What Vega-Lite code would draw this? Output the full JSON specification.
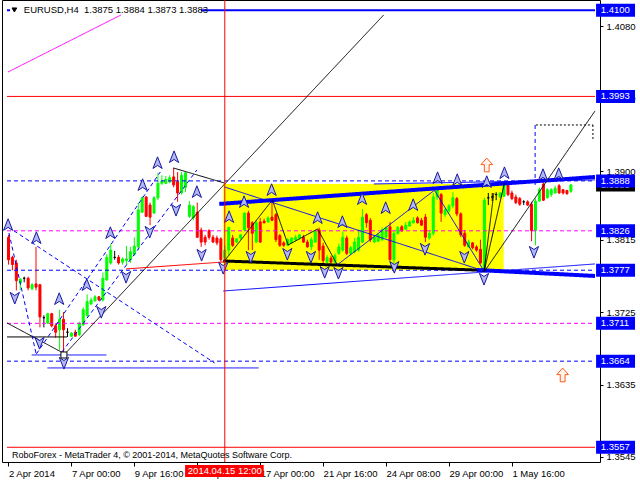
{
"$schema":"https://vega.github.io/schema/vega-lite/v6.json",
"width":598,"height":462,
"autosize":{"type":"none"},
"padding":{"left":2,"right":40,"top":0,"bottom":18},
"background":"white",
"config":{"view":{"stroke":"black","strokeWidth":1},"font":"Liberation Sans","axis":{"labelFont":"Liberation Sans","labelFontSize":9.5,"labelColor":"black","tickColor":"black","grid":false,"domain":false}},
"datasets":{
"rect":[{"k1":54.6,"k2":125.9,"p1":1.38842,"p2":1.37773}],
"one":[{"n":1}],
"c":[
{"k":0,"o":1.3818,"h":1.3821,"l":1.3784,"c":1.379},
{"k":1,"o":1.3793,"h":1.3795,"l":1.3777,"c":1.3784},
{"k":2,"o":1.3786,"h":1.379,"l":1.3752,"c":1.3764},
{"k":3,"o":1.3761,"h":1.3767,"l":1.3752,"c":1.3766},
{"k":4,"o":1.3767,"h":1.3769,"l":1.3762,"c":1.3767},
{"k":5,"o":1.3767,"h":1.3769,"l":1.3752,"c":1.3755},
{"k":6,"o":1.3754,"h":1.3761,"l":1.3752,"c":1.3759},
{"k":7,"o":1.376,"h":1.3806,"l":1.3752,"c":1.3756},
{"k":8,"o":1.3759,"h":1.376,"l":1.3706,"c":1.3719},
{"k":9,"o":1.3718,"h":1.3721,"l":1.3706,"c":1.3718},
{"k":10,"o":1.3711,"h":1.3724,"l":1.3711,"c":1.3723},
{"k":11,"o":1.3723,"h":1.3724,"l":1.3706,"c":1.3708},
{"k":12,"o":1.3708,"h":1.3711,"l":1.3693,"c":1.37},
{"k":13,"o":1.3703,"h":1.3728,"l":1.3678,"c":1.3716},
{"k":14,"o":1.3716,"h":1.3725,"l":1.3672,"c":1.3703},
{"k":15,"o":1.37,"h":1.3705,"l":1.3694,"c":1.37},
{"k":16,"o":1.3695,"h":1.37,"l":1.3694,"c":1.3699},
{"k":17,"o":1.37,"h":1.3703,"l":1.3695,"c":1.3695},
{"k":18,"o":1.3697,"h":1.3713,"l":1.3695,"c":1.3711},
{"k":19,"o":1.3709,"h":1.3731,"l":1.3708,"c":1.3728},
{"k":20,"o":1.3721,"h":1.3747,"l":1.3719,"c":1.3738},
{"k":21,"o":1.3735,"h":1.3743,"l":1.3734,"c":1.374},
{"k":22,"o":1.3739,"h":1.3746,"l":1.3738,"c":1.3744},
{"k":23,"o":1.3744,"h":1.3745,"l":1.3739,"c":1.374},
{"k":24,"o":1.374,"h":1.3774,"l":1.3738,"c":1.3767},
{"k":25,"o":1.3765,"h":1.3797,"l":1.3764,"c":1.3793},
{"k":26,"o":1.3786,"h":1.381,"l":1.3784,"c":1.3802},
{"k":27,"o":1.3793,"h":1.3801,"l":1.379,"c":1.3793},
{"k":28,"o":1.3793,"h":1.3796,"l":1.3784,"c":1.3786},
{"k":29,"o":1.3787,"h":1.3793,"l":1.3784,"c":1.3791},
{"k":30,"o":1.3789,"h":1.3807,"l":1.3784,"c":1.3791},
{"k":31,"o":1.379,"h":1.3806,"l":1.3786,"c":1.38},
{"k":32,"o":1.3797,"h":1.3818,"l":1.3795,"c":1.3807},
{"k":33,"o":1.3806,"h":1.3861,"l":1.3802,"c":1.3852},
{"k":34,"o":1.3849,"h":1.3869,"l":1.3848,"c":1.3867},
{"k":35,"o":1.3868,"h":1.3869,"l":1.3843,"c":1.3844},
{"k":36,"o":1.3858,"h":1.3861,"l":1.3833,"c":1.3843},
{"k":37,"o":1.3848,"h":1.3869,"l":1.3847,"c":1.3867},
{"k":38,"o":1.3867,"h":1.3898,"l":1.3864,"c":1.3885},
{"k":39,"o":1.3885,"h":1.3895,"l":1.3883,"c":1.3888},
{"k":40,"o":1.3885,"h":1.3894,"l":1.3884,"c":1.389},
{"k":41,"o":1.3887,"h":1.3895,"l":1.3885,"c":1.3892},
{"k":42,"o":1.3893,"h":1.3904,"l":1.388,"c":1.3883},
{"k":43,"o":1.3887,"h":1.3899,"l":1.3862,"c":1.3873},
{"k":44,"o":1.3873,"h":1.3899,"l":1.3871,"c":1.3895},
{"k":45,"o":1.388,"h":1.3899,"l":1.3874,"c":1.3898},
{"k":46,"o":1.3844,"h":1.3863,"l":1.3842,"c":1.3858},
{"k":47,"o":1.3842,"h":1.3858,"l":1.3839,"c":1.3856},
{"k":48,"o":1.3849,"h":1.3861,"l":1.3817,"c":1.3818},
{"k":49,"o":1.3827,"h":1.383,"l":1.3806,"c":1.3812},
{"k":50,"o":1.3818,"h":1.3821,"l":1.3808,"c":1.3812},
{"k":51,"o":1.3826,"h":1.3828,"l":1.3815,"c":1.3818},
{"k":52,"o":1.3818,"h":1.3821,"l":1.3811,"c":1.3812},
{"k":53,"o":1.3817,"h":1.382,"l":1.3808,"c":1.3811},
{"k":54,"o":1.3816,"h":1.3818,"l":1.3787,"c":1.379},
{"k":55,"o":1.3792,"h":1.3808,"l":1.3787,"c":1.3802},
{"k":56,"o":1.3802,"h":1.3831,"l":1.3795,"c":1.383},
{"k":57,"o":1.3817,"h":1.3821,"l":1.3806,"c":1.3808},
{"k":58,"o":1.3812,"h":1.3817,"l":1.3811,"c":1.3816},
{"k":59,"o":1.3817,"h":1.3822,"l":1.3815,"c":1.3821},
{"k":60,"o":1.3827,"h":1.3849,"l":1.3825,"c":1.3848},
{"k":61,"o":1.3848,"h":1.3851,"l":1.3802,"c":1.383},
{"k":62,"o":1.3836,"h":1.3838,"l":1.3802,"c":1.3823},
{"k":63,"o":1.3812,"h":1.3839,"l":1.3811,"c":1.3836},
{"k":64,"o":1.3837,"h":1.3842,"l":1.3811,"c":1.3812},
{"k":65,"o":1.3838,"h":1.3841,"l":1.3835,"c":1.3836},
{"k":66,"o":1.3837,"h":1.3844,"l":1.3836,"c":1.3842},
{"k":67,"o":1.3843,"h":1.3864,"l":1.3838,"c":1.3839},
{"k":68,"o":1.3846,"h":1.3848,"l":1.3812,"c":1.3815},
{"k":69,"o":1.382,"h":1.3822,"l":1.3806,"c":1.3808},
{"k":70,"o":1.3811,"h":1.3813,"l":1.3806,"c":1.3808},
{"k":71,"o":1.3808,"h":1.3817,"l":1.3807,"c":1.3815},
{"k":72,"o":1.3811,"h":1.3818,"l":1.381,"c":1.3817},
{"k":73,"o":1.3815,"h":1.3821,"l":1.3813,"c":1.3818},
{"k":74,"o":1.3817,"h":1.3822,"l":1.3815,"c":1.3821},
{"k":75,"o":1.3818,"h":1.3821,"l":1.3811,"c":1.3812},
{"k":76,"o":1.3812,"h":1.3815,"l":1.3805,"c":1.3806},
{"k":77,"o":1.3806,"h":1.3818,"l":1.3802,"c":1.3815},
{"k":78,"o":1.3812,"h":1.3827,"l":1.3811,"c":1.3825},
{"k":79,"o":1.3827,"h":1.383,"l":1.379,"c":1.3802},
{"k":80,"o":1.3807,"h":1.3811,"l":1.3786,"c":1.3789},
{"k":81,"o":1.3787,"h":1.3796,"l":1.3786,"c":1.3793},
{"k":82,"o":1.3792,"h":1.3795,"l":1.3786,"c":1.3787},
{"k":83,"o":1.3787,"h":1.3798,"l":1.3784,"c":1.3795},
{"k":84,"o":1.3798,"h":1.381,"l":1.3796,"c":1.3806},
{"k":85,"o":1.3802,"h":1.3825,"l":1.38,"c":1.3818},
{"k":86,"o":1.3817,"h":1.382,"l":1.3796,"c":1.3798},
{"k":87,"o":1.3798,"h":1.3807,"l":1.3796,"c":1.3805},
{"k":88,"o":1.38,"h":1.3817,"l":1.3798,"c":1.3812},
{"k":89,"o":1.3802,"h":1.3827,"l":1.38,"c":1.3818},
{"k":90,"o":1.3812,"h":1.3853,"l":1.3811,"c":1.3843},
{"k":91,"o":1.3846,"h":1.3848,"l":1.383,"c":1.3836},
{"k":92,"o":1.3839,"h":1.3842,"l":1.3812,"c":1.3815},
{"k":93,"o":1.3812,"h":1.3821,"l":1.3811,"c":1.3818},
{"k":94,"o":1.3813,"h":1.3823,"l":1.3812,"c":1.3821},
{"k":95,"o":1.3815,"h":1.383,"l":1.3813,"c":1.3827},
{"k":96,"o":1.3818,"h":1.3831,"l":1.3817,"c":1.383},
{"k":97,"o":1.3831,"h":1.3837,"l":1.3789,"c":1.379},
{"k":98,"o":1.379,"h":1.3826,"l":1.3784,"c":1.3823},
{"k":99,"o":1.3823,"h":1.3832,"l":1.3821,"c":1.383},
{"k":100,"o":1.3831,"h":1.3833,"l":1.3825,"c":1.3826},
{"k":101,"o":1.3828,"h":1.3837,"l":1.3827,"c":1.3833},
{"k":102,"o":1.3832,"h":1.3839,"l":1.3831,"c":1.3837},
{"k":103,"o":1.3836,"h":1.3843,"l":1.3835,"c":1.3839},
{"k":104,"o":1.3842,"h":1.3844,"l":1.3835,"c":1.3836},
{"k":105,"o":1.3839,"h":1.3842,"l":1.3832,"c":1.3833},
{"k":106,"o":1.3843,"h":1.3847,"l":1.3812,"c":1.3818},
{"k":107,"o":1.3817,"h":1.3826,"l":1.3815,"c":1.3823},
{"k":108,"o":1.3823,"h":1.3873,"l":1.382,"c":1.3868},
{"k":109,"o":1.3868,"h":1.3879,"l":1.3864,"c":1.3877},
{"k":110,"o":1.3871,"h":1.3873,"l":1.3837,"c":1.3848},
{"k":111,"o":1.3846,"h":1.3854,"l":1.3843,"c":1.3852},
{"k":112,"o":1.3851,"h":1.3859,"l":1.3848,"c":1.3857},
{"k":113,"o":1.3857,"h":1.3874,"l":1.3854,"c":1.3867},
{"k":114,"o":1.3866,"h":1.3868,"l":1.3844,"c":1.3847},
{"k":115,"o":1.3847,"h":1.3849,"l":1.3818,"c":1.3821},
{"k":116,"o":1.3823,"h":1.3827,"l":1.3806,"c":1.3808},
{"k":117,"o":1.3806,"h":1.3815,"l":1.3805,"c":1.3812},
{"k":118,"o":1.3811,"h":1.3812,"l":1.3803,"c":1.3805},
{"k":119,"o":1.3806,"h":1.3808,"l":1.38,"c":1.3802},
{"k":120,"o":1.3803,"h":1.3815,"l":1.3785,"c":1.3786},
{"k":121,"o":1.378,"h":1.3867,"l":1.3775,"c":1.3864},
{"k":122,"o":1.3867,"h":1.3873,"l":1.3858,"c":1.3867},
{"k":123,"o":1.3868,"h":1.3873,"l":1.3863,"c":1.3868},
{"k":124,"o":1.3871,"h":1.3874,"l":1.3864,"c":1.3871},
{"k":125,"o":1.3868,"h":1.3874,"l":1.3867,"c":1.3873},
{"k":126,"o":1.3869,"h":1.3887,"l":1.3868,"c":1.3884},
{"k":127,"o":1.3884,"h":1.3888,"l":1.3869,"c":1.3871},
{"k":128,"o":1.3873,"h":1.3876,"l":1.3864,"c":1.3866},
{"k":129,"o":1.3868,"h":1.3871,"l":1.3859,"c":1.3861},
{"k":130,"o":1.3866,"h":1.3868,"l":1.3857,"c":1.3859},
{"k":131,"o":1.3862,"h":1.3864,"l":1.3858,"c":1.3862},
{"k":132,"o":1.3862,"h":1.3864,"l":1.3857,"c":1.3858},
{"k":133,"o":1.3859,"h":1.3862,"l":1.3813,"c":1.3826},
{"k":134,"o":1.3826,"h":1.3866,"l":1.3808,"c":1.3863},
{"k":135,"o":1.3863,"h":1.388,"l":1.3862,"c":1.3877},
{"k":136,"o":1.3884,"h":1.3887,"l":1.3863,"c":1.3864},
{"k":137,"o":1.3867,"h":1.3879,"l":1.3866,"c":1.3877},
{"k":138,"o":1.3871,"h":1.3879,"l":1.3868,"c":1.3877},
{"k":139,"o":1.3873,"h":1.3882,"l":1.3872,"c":1.3879},
{"k":140,"o":1.3882,"h":1.3884,"l":1.3872,"c":1.3873},
{"k":141,"o":1.3877,"h":1.3878,"l":1.3871,"c":1.3873},
{"k":142,"o":1.3876,"h":1.3877,"l":1.3871,"c":1.3872},
{"k":143,"o":1.3875,"h":1.3884,"l":1.3873,"c":1.3883}
],
"s":[
{"k1":-0.375,"p1":1.41,"k2":0.4,"p2":1.41,"s":"b2"},
{"k1":48.9,"p1":1.41,"k2":149.125,"p2":1.41,"s":"b2"},
{"k1":-0.375,"p1":1.3993,"k2":149.125,"p2":1.3993,"s":"r1"},
{"k1":-0.375,"p1":1.3888,"k2":149.125,"p2":1.3888,"s":"bd"},
{"k1":-0.375,"p1":1.3826,"k2":149.125,"p2":1.3826,"s":"md"},
{"k1":-0.375,"p1":1.3777,"k2":149.125,"p2":1.3777,"s":"bd"},
{"k1":-0.375,"p1":1.3711,"k2":149.125,"p2":1.3711,"s":"md"},
{"k1":-0.375,"p1":1.3664,"k2":149.125,"p2":1.3664,"s":"bd"},
{"k1":-0.375,"p1":1.3557,"k2":149.125,"p2":1.3557,"s":"r1"},
{"k1":53.6,"p1":1.38594,"k2":149.125,"p2":1.38929,"s":"bt"},
{"k1":54.6,"p1":1.37885,"k2":125.4,"p2":1.37761,"s":"kt"},
{"k1":119.1,"p1":1.37773,"k2":149.125,"p2":1.37699,"s":"bt"},
{"k1":54.6,"p1":1.37512,"k2":149.125,"p2":1.37848,"s":"b1"},
{"k1":14.1,"p1":1.36717,"k2":95.4,"p2":1.40942,"s":"k1"},
{"k1":41.9,"p1":1.39041,"k2":54.9,"p2":1.38854,"s":"k1"},
{"k1":120.9,"p1":1.37748,"k2":149.125,"p2":1.39749,"s":"k1"},
{"k1":134.1,"p1":1.39575,"k2":148.6,"p2":1.39575,"s":"kd"},
{"k1":148.6,"p1":1.39575,"k2":148.6,"p2":1.39389,"s":"kd"},
{"k1":133.9,"p1":1.39575,"k2":133.9,"p2":1.3883,"s":"bd"},
{"k1":-0.125,"p1":1.40233,"k2":28.6,"p2":1.40942,"s":"m1"},
{"k1":-0.375,"p1":1.36941,"k2":14.9,"p2":1.36941,"s":"k1"},
{"k1":-0.375,"p1":1.37115,"k2":13.9,"p2":1.36742,"s":"k1"},
{"k1":5.9,"p1":1.36717,"k2":24.9,"p2":1.36717,"s":"b1"},
{"k1":9.9,"p1":1.36556,"k2":63.6,"p2":1.36556,"s":"b1"},
{"k1":-0.125,"p1":1.38308,"k2":52.4,"p2":1.36618,"s":"bd"},
{"k1":7.1,"p1":1.3673,"k2":38.6,"p2":1.38991,"s":"bd"},
{"k1":13.6,"p1":1.36754,"k2":47.9,"p2":1.39016,"s":"bd"},
{"k1":0.125,"p1":1.38233,"k2":7.1,"p2":1.36717,"s":"bd"},
{"k1":29.9,"p1":1.37786,"k2":54.9,"p2":1.37873,"s":"r1"},
{"k1":54.9,"p1":1.37885,"k2":67.1,"p2":1.38643,"s":"k1"},
{"k1":67.1,"p1":1.38643,"k2":71.1,"p2":1.38084,"s":"k1"},
{"k1":71.1,"p1":1.38084,"k2":78.6,"p2":1.38283,"s":"k1"},
{"k1":78.6,"p1":1.38283,"k2":83.6,"p2":1.37836,"s":"k1"},
{"k1":83.6,"p1":1.37836,"k2":108.4,"p2":1.38768,"s":"b1"},
{"k1":108.4,"p1":1.38755,"k2":120.9,"p2":1.37761,"s":"b1"},
{"k1":54.9,"p1":1.38805,"k2":120.9,"p2":1.37761,"s":"b1"},
{"k1":120.9,"p1":1.37748,"k2":126.1,"p2":1.38854,"s":"k1"},
{"k1":120.9,"p1":1.37748,"k2":123.4,"p2":1.3873,"s":"k1"},
{"k1":92.9,"p1":1.38842,"k2":149.125,"p2":1.38892,"s":"b1"}
],
"a":[
{"k":-0.1,"p":1.38333,"t":"up"},{"k":7.1,"p":1.38171,"t":"up"},{"k":12.9,"p":1.37413,"t":"up"},{"k":19.9,"p":1.37587,"t":"up"},{"k":25.9,"p":1.38233,"t":"up"},{"k":34.1,"p":1.3883,"t":"up"},{"k":37.9,"p":1.39103,"t":"up"},{"k":42.1,"p":1.39177,"t":"up"},{"k":47.9,"p":1.38743,"t":"up"},{"k":56.1,"p":1.38432,"t":"up"},{"k":59.9,"p":1.38619,"t":"up"},{"k":66.9,"p":1.38768,"t":"up"},{"k":78.6,"p":1.3842,"t":"up"},{"k":84.9,"p":1.3837,"t":"up"},{"k":89.9,"p":1.38656,"t":"up"},{"k":95.9,"p":1.38544,"t":"up"},{"k":102.9,"p":1.38581,"t":"up"},{"k":109.1,"p":1.38916,"t":"up"},{"k":114.1,"p":1.38892,"t":"up"},{"k":121.6,"p":1.38867,"t":"up"},{"k":126.1,"p":1.38978,"t":"up"},{"k":135.9,"p":1.38954,"t":"up"},{"k":139.9,"p":1.38966,"t":"up"},
{"k":1.6,"p":1.37426,"t":"dn"},{"k":7.9,"p":1.36866,"t":"dn"},{"k":14.1,"p":1.36618,"t":"dn"},{"k":23.6,"p":1.37251,"t":"dn"},{"k":29.9,"p":1.37686,"t":"dn"},{"k":35.9,"p":1.38246,"t":"dn"},{"k":42.6,"p":1.38519,"t":"dn"},{"k":49.1,"p":1.3796,"t":"dn"},{"k":54.6,"p":1.37798,"t":"dn"},{"k":61.6,"p":1.37935,"t":"dn"},{"k":70.9,"p":1.37972,"t":"dn"},{"k":76.9,"p":1.37935,"t":"dn"},{"k":80.4,"p":1.37748,"t":"dn"},{"k":83.9,"p":1.37736,"t":"dn"},{"k":98.1,"p":1.3781,"t":"dn"},{"k":105.9,"p":1.38034,"t":"dn"},{"k":115.9,"p":1.37935,"t":"dn"},{"k":120.9,"p":1.37662,"t":"dn"},{"k":133.6,"p":1.37997,"t":"dn"},
{"k":121.6,"p":1.39078,"t":"oup"},{"k":140.9,"p":1.36469,"t":"oup"},
{"k":14.1,"p":1.36717,"t":"sq"},
{"k":1.5,"p":1.41004,"t":"hdr"}
],
"lv":[
{"p":1.3883,"t":"1.3883","kind":"bk"},
{"p":1.41,"t":"1.4100","kind":"b"},
{"p":1.3993,"t":"1.3993","kind":"r"},
{"p":1.3888,"t":"1.3888","kind":"b"},
{"p":1.3826,"t":"1.3826","kind":"m"},
{"p":1.3777,"t":"1.3777","kind":"b"},
{"p":1.3711,"t":"1.3711","kind":"m"},
{"p":1.3664,"t":"1.3664","kind":"b"},
{"p":1.3557,"t":"1.3557","kind":"r"}
]
},
"layer":[
{"data":{"name":"rect"},"mark":{"type":"rect","color":"#ffff00"},
 "encoding":{
  "x":{"field":"k1","type":"quantitative","title":null,"scale":{"domain":[-0.375,149.125],"nice":false,"zero":false},
   "axis":{"orient":"bottom","title":null,"values":[0,16,32,48,64,80,96,112,128],"labelExpr":"datum.value == 0 ? '2 Apr 2014' : datum.value == 16 ? '7 Apr 00:00' : datum.value == 32 ? '9 Apr 16:00' : datum.value == 48 ? '14 Apr 08:00' : datum.value == 64 ? '17 Apr 00:00' : datum.value == 80 ? '21 Apr 16:00' : datum.value == 96 ? '24 Apr 08:00' : datum.value == 112 ? '29 Apr 00:00' : '1 May 16:00'","tickSize":4,"labelAlign":"left","labelBaseline":"top","labelPadding":2,"labelDx":1,"labelFlush":false,"labelOverlap":false}},
  "x2":{"field":"k2"},
  "y":{"field":"p1","type":"quantitative","title":null,"scale":{"domain":[1.35387,1.41128],"nice":false,"zero":false},
   "axis":{"orient":"right","title":null,"values":[1.408,1.4035,1.399,1.3945,1.39,1.3855,1.3815,1.377,1.3725,1.368,1.3635,1.359,1.3545],"format":".4f","tickSize":3,"labelPadding":3,"labelBaseline":"middle","labelFlush":false,"labelOverlap":false}},
  "y2":{"field":"p2"}}},
{"data":{"name":"c"},"mark":{"type":"rule","strokeWidth":1},
 "encoding":{"x":{"field":"k","type":"quantitative","title":null},"y":{"field":"h","type":"quantitative","title":null},"y2":{"field":"l"},
  "color":{"condition":[{"test":"datum.c > datum.o","value":"#00ff00"},{"test":"datum.c < datum.o","value":"#ff0000"}],"value":"#000000"}}},
{"data":{"name":"c"},"mark":{"type":"bar","width":2,"strokeWidth":1},
 "encoding":{"x":{"field":"k","type":"quantitative","title":null},"y":{"field":"o","type":"quantitative","title":null},"y2":{"field":"c"},
  "color":{"condition":[{"test":"datum.c > datum.o","value":"#00ff00"},{"test":"datum.c < datum.o","value":"#ff0000"}],"value":"#000000"},
  "stroke":{"condition":[{"test":"datum.c > datum.o","value":"#00ff00"},{"test":"datum.c < datum.o","value":"#ff0000"}],"value":"#000000"}}},
{"data":{"name":"s"},"mark":{"type":"rule","strokeCap":"butt"},
 "encoding":{"x":{"field":"k1","type":"quantitative","title":null},"x2":{"field":"k2"},"y":{"field":"p1","type":"quantitative","title":null},"y2":{"field":"p2"},
  "color":{"field":"s","type":"nominal","legend":null,"scale":{"domain":["bt","b2","b1","bd","md","m1","r1","k1","kt","kd"],"range":["#0000ff","#0000ff","#0000ff","#0000ff","#ff00ff","#ff00ff","#ff0000","#000000","#000000","#000000"]}},
  "strokeWidth":{"condition":[{"test":"datum.s == 'bt'","value":4},{"test":"datum.s == 'kt'","value":3},{"test":"datum.s == 'b2'","value":2}],"value":1},
  "strokeDash":{"condition":[{"test":"datum.s == 'bd' || datum.s == 'md'","value":[4,3]},{"test":"datum.s == 'kd'","value":[2,2]}],"value":[1,0]}}},
{"data":{"name":"a"},"mark":{"type":"point","filled":true,"strokeWidth":1,"opacity":1},
 "encoding":{"x":{"field":"k","type":"quantitative","title":null},"y":{"field":"p","type":"quantitative","title":null},
  "shape":{"field":"t","type":"nominal","legend":null,"scale":{"domain":["up","dn","oup","sq","hdr"],"range":["M0,-1L0.75,0.9L0,0.4L-0.75,0.9Z","M0,1L0.75,-0.9L0,-0.4L-0.75,-0.9Z","M0,-1L0.85,-0.05L0.35,-0.05L0.35,1L-0.35,1L-0.35,-0.05L-0.85,-0.05Z","square","triangle-down"]}},
  "fill":{"field":"t","type":"nominal","legend":null,"scale":{"domain":["up","dn","oup","sq","hdr"],"range":["#b2b8f4","#b2b8f4","#fff4ec","#ffffff","#000000"]}},
  "stroke":{"field":"t","type":"nominal","legend":null,"scale":{"domain":["up","dn","oup","sq","hdr"],"range":["#1818a0","#1818a0","#ff5a1a","#000000","#000000"]}},
  "size":{"condition":[{"test":"datum.t == 'sq'","value":36},{"test":"datum.t == 'hdr'","value":22},{"test":"datum.t == 'oup'","value":190}],"value":150}}},
{"data":{"name":"one"},"mark":{"type":"rule","color":"#ff0000","strokeWidth":1},"encoding":{"x":{"datum":55,"type":"quantitative"}}},
{"data":{"name":"lv"},"transform":[{"filter":"datum.kind == 'bk'"}],"mark":{"type":"rule","strokeWidth":13,"strokeCap":"butt","color":"#000000"},
 "encoding":{"x":{"datum":149.4,"type":"quantitative"},"x2":{"datum":159.3},"y":{"field":"p","type":"quantitative","title":null}}},
{"data":{"name":"lv"},"transform":[{"filter":"datum.kind == 'bk'"}],"mark":{"type":"text","color":"white","align":"left","baseline":"middle","fontSize":9.5,"font":"Liberation Sans"},
 "encoding":{"x":{"datum":150.6,"type":"quantitative"},"y":{"field":"p","type":"quantitative","title":null},"text":{"field":"t"}}},
{"data":{"name":"lv"},"transform":[{"filter":"datum.kind != 'bk'"}],"mark":{"type":"rule","strokeWidth":13,"strokeCap":"butt"},
 "encoding":{"x":{"datum":149.4,"type":"quantitative"},"x2":{"datum":159.3},"y":{"field":"p","type":"quantitative","title":null},
  "color":{"field":"kind","type":"nominal","legend":null,"scale":{"domain":["b","r","m","bk"],"range":["#0000ff","#ff0000","#ff00ff","#000000"]}}}},
{"data":{"name":"lv"},"transform":[{"filter":"datum.kind != 'bk'"}],"mark":{"type":"text","color":"white","align":"left","baseline":"middle","fontSize":9.5,"font":"Liberation Sans"},
 "encoding":{"x":{"datum":150.6,"type":"quantitative"},"y":{"field":"p","type":"quantitative","title":null},"text":{"field":"t"}}},
{"data":{"name":"one"},"mark":{"type":"rule","color":"#ff0000","strokeWidth":12,"strokeCap":"butt"},
 "encoding":{"x":{"datum":44.9,"type":"quantitative"},"x2":{"datum":64.9},"y":{"datum":1.35276,"type":"quantitative"}}},
{"data":{"name":"one"},"mark":{"type":"text","color":"white","align":"center","baseline":"middle","fontSize":9.5,"font":"Liberation Sans","text":"2014.04.15 12:00"},
 "encoding":{"x":{"datum":55,"type":"quantitative"},"y":{"datum":1.35276,"type":"quantitative"}}},
{"data":{"name":"one"},"mark":{"type":"text","color":"black","align":"left","baseline":"middle","fontSize":9.5,"font":"Liberation Sans","text":"EURUSD,H4\u00a0 1.3875 1.3884 1.3873 1.3883"},
 "encoding":{"x":{"datum":3.9,"type":"quantitative"},"y":{"datum":1.41004,"type":"quantitative"}}},
{"data":{"name":"one"},"mark":{"type":"text","color":"black","align":"left","baseline":"middle","fontSize":9,"font":"Liberation Sans","text":"RoboForex - MetaTrader 4, © 2001-2014, MetaQuotes Software Corp."},
 "encoding":{"x":{"datum":0.9,"type":"quantitative"},"y":{"datum":1.35475,"type":"quantitative"}}}
]
}
